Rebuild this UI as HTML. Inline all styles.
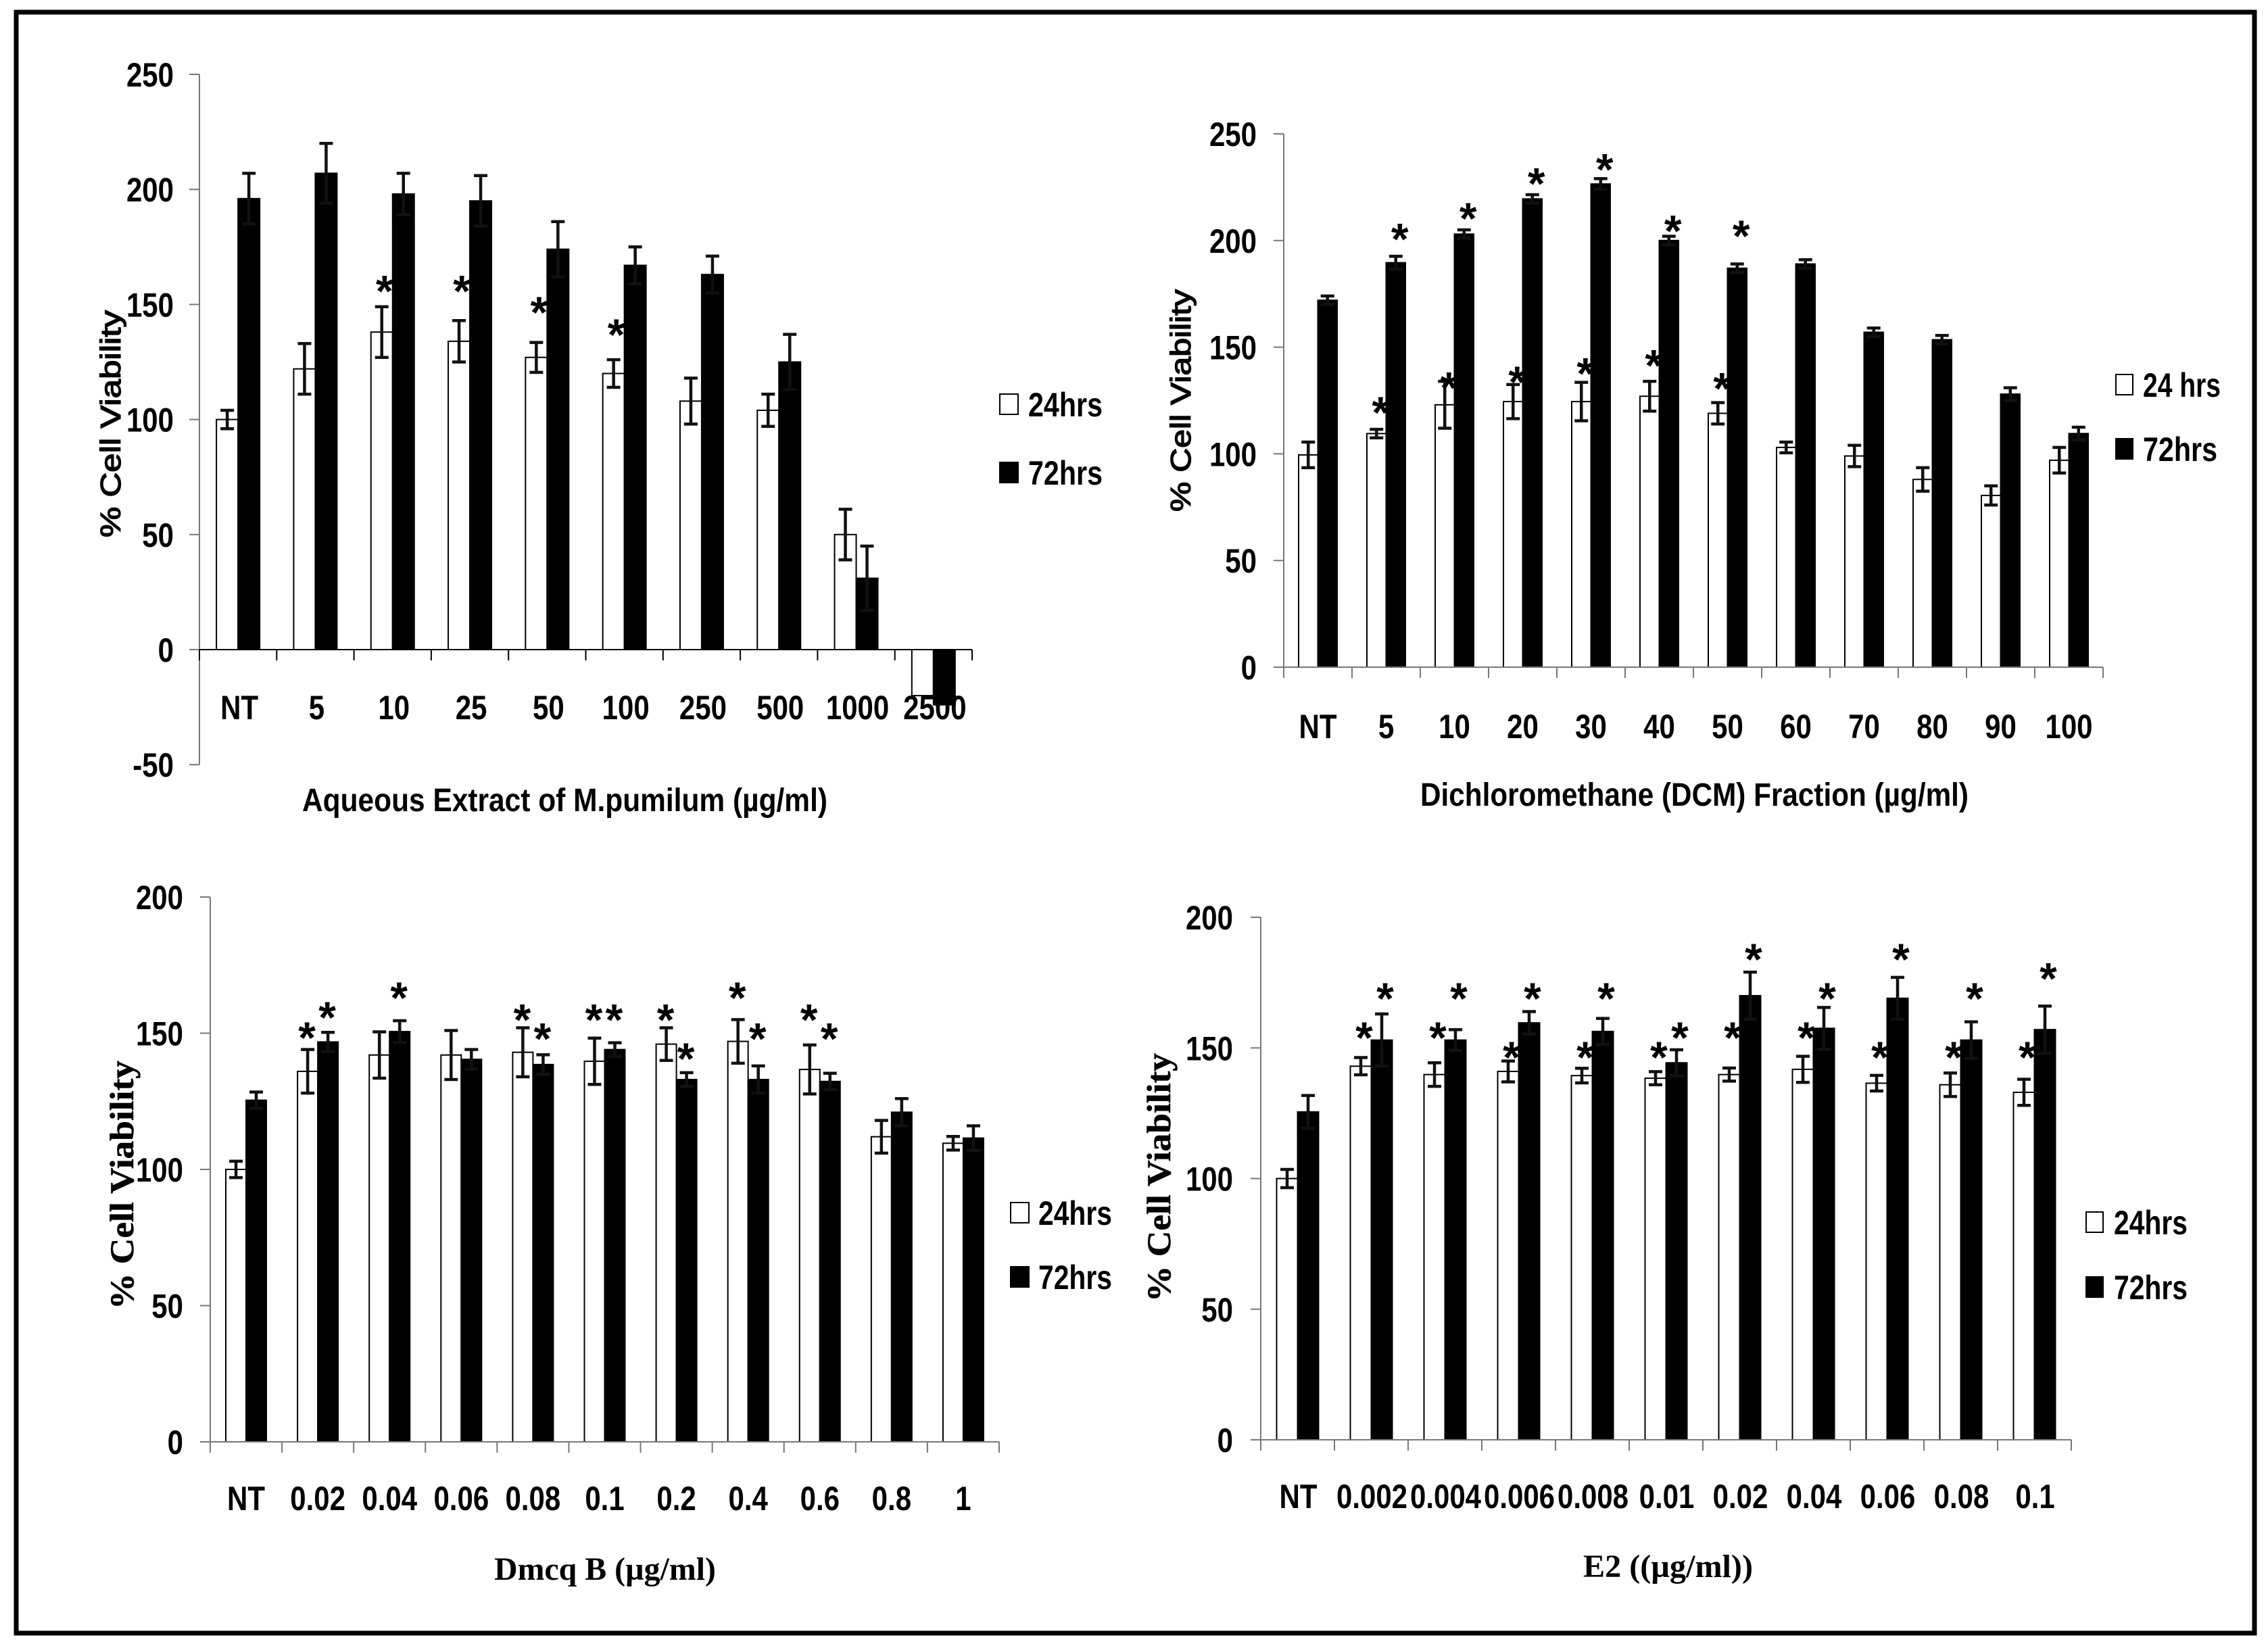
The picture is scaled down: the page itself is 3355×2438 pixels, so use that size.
<!DOCTYPE html>
<html lang="en">
<head>
<meta charset="utf-8">
<title>Cell viability charts</title>
<style>
html,body{margin:0;padding:0;background:#fff;}
svg{display:block;}
text{font-family:"Liberation Sans",Arial,sans-serif;fill:#000;}
.serif{font-family:"Liberation Serif","Times New Roman",serif;}
</style>
</head>
<body>
<svg id="figure" xmlns="http://www.w3.org/2000/svg" width="3355" height="2438" viewBox="0 0 3355 2438">
<rect x="0" y="0" width="3355" height="2438" fill="#fff"/>
<rect x="24" y="18" width="3311" height="2398" fill="none" stroke="#000" stroke-width="7"/>
</svg>
<script>
// Panel 1 data
const p1Categories = ['NT','5','10','25','50','100','250','500','1000','2500'];
const p1Values24 = [100,122,138,134,127,120,108,104,50,-20];
const p1Values72 = [196,207,198,195,174,167,163,125,31,-24];
const p1Err24 = [4,11,11,9,6.5,6,10,7,11,0];
const p1Err72 = [11,13,9,11,12,8,8,12,14,0];
const p1Stars24 = [null,null,157,157,147.7,138,null,null,null,null];
const p1Stars72 = [null,null,null,null,null,null,null,null,null,null];
const p1Ticks = [-50,0,50,100,150,200,250];

// Panel 2 data
const p2Categories = ['NT','5','10','20','30','40','50','60','70','80','90','100'];
const p2Values24 = [99.5,109.5,123,124.5,124.5,127,119,103,99,88,80.5,97];
const p2Values72 = [172,189.6,203,219.5,226.5,200,187,189,157,153.5,128,109.5];
const p2Err24 = [6,2,11,8,9,7,5,2.5,5,5.5,4.5,6];
const p2Err72 = [2,3,2,2,2.5,2,2,2,2,2,3,3];
const p2Stars24 = [null,120.7,132.3,135,139,142.7,132,null,null,null,null,null];
const p2Stars72 = [null,202,211.6,228,234.6,205.8,203.5,null,null,null,null,null];
const p2Ticks = [0,50,100,150,200,250];

// Panel 3 data
const p3Categories = ['NT','0.02','0.04','0.06','0.08','0.1','0.2','0.4','0.6','0.8','1'];
const p3Values24 = [100,136,142,142,143,139.7,146,147,136.7,112,109.6];
const p3Values72 = [125.4,146.8,150.6,140.4,138.5,144,133,133,132.3,121,111.5];
const p3Err24 = [3,8,8.5,9,9,8.5,6,8,9,6,2.5];
const p3Err72 = [3,3.5,4,3.6,3.6,2.5,2.5,5,3,5,4.5];
const p3Stars24 = [null,149.4,null,null,156,156,156,164,156,null,null];
const p3Stars72 = [null,156.8,164,null,149,156,141.7,149,149,null,null];
const p3Ticks = [0,50,100,150,200];

// Panel 4 data
const p4Categories = ['NT','0.002','0.004','0.006','0.008','0.01','0.02','0.04','0.06','0.08','0.1'];
const p4Values24 = [100,143,139.8,141,139.4,138.4,139.8,141.8,136.5,135.9,133];
const p4Values72 = [125.5,153,153,159.6,156.3,144.3,170,157.5,169,153,157];
const p4Err24 = [3.5,3.3,4.5,4,2.8,2.5,2.5,5,3,4.5,5];
const p4Err72 = [6.3,10,4,4.3,5,5,9,8,8,7,9];
const p4Stars24 = [null,155,155,147.5,147.5,147.5,155,155,147.5,147.5,147.5];
const p4Stars72 = [null,170,170,170,170,155,185,170,185,170,177.6];
const p4Ticks = [0,50,100,150,200];

const svgNS = 'http://www.w3.org/2000/svg';
const figure = document.getElementById('figure');

function make(parent, tag, attrs, content) {
  const el = document.createElementNS(svgNS, tag);
  for (const k in attrs) el.setAttribute(k, attrs[k]);
  if (content !== undefined) el.textContent = content;
  parent.appendChild(el);
  return el;
}

function drawPanel(c) {
  const g = make(figure, 'g', {});
  
  

  const yOf = v => c.y0 - v * (c.y0 - c.yTop) / c.yMax;
  const catW = (c.xEnd - c.x0) / c.categories.length;
  const catX = i => c.x0 + i * catW;
  const barX = (i, s) => catX(i) + (catW - 2 * c.barW) / 2 + s * c.barW;
  const yMinVal = c.ticks[0];
  const labelFamily = c.serif ? 'serif' : '';
  const narrow = (x, y) => 'translate(' + x + ' ' + y + ') scale(0.84 1)';

  // bars
  [[c.v24, 0], [c.v72, 1]].forEach(function (series) {
    const values = series[0], s = series[1];
    values.forEach(function (v, i) {
      const x = barX(i, s);
      const top = Math.min(yOf(v), c.y0);
      const h = Math.abs(yOf(v) - c.y0);
      const bar = make(g, 'rect', {x: x, y: top, width: c.barW, height: h, fill: s ? '#000' : '#fff', stroke: '#000', 'stroke-width': 2});
      
      
    });
  });
  // error bars and significance stars
  [[c.v24, c.e24, c.s24, 0], [c.v72, c.e72, c.s72, 1]].forEach(function (series) {
    const values = series[0], errs = series[1], stars = series[2], s = series[3];
    values.forEach(function (v, i) {
      const cx = barX(i, s) + c.barW / 2;
      if (errs[i] > 0) {
        const err = make(g, 'path', {d: 'M' + cx + ' ' + yOf(v + errs[i]) + 'V' + yOf(v - errs[i]) + 'M' + (cx - 10) + ' ' + yOf(v + errs[i]) + 'H' + (cx + 10) + 'M' + (cx - 10) + ' ' + yOf(v - errs[i]) + 'H' + (cx + 10), fill: 'none', stroke: '#111', 'stroke-width': 4.5});
        
        
      }
      if (stars[i] !== null) {
        const star = make(g, 'text', {x: cx + c.starDx, y: yOf(stars[i]) + 27, 'text-anchor': 'middle', 'font-size': 66, 'font-weight': 700}, '*');
        
        
      }
    });
  });

  // y axis
  const yAxis = make(g, 'line', {x1: c.x0, x2: c.x0, y1: c.yTop, y2: yOf(yMinVal), stroke: '#777', 'stroke-width': 2});
  
  
  c.ticks.forEach(function (t) {
    const tick = make(g, 'line', {x1: c.x0 - 15, x2: c.x0, y1: yOf(t), y2: yOf(t), stroke: '#777', 'stroke-width': 2});
    
    
    const lab = make(g, 'text', {transform: narrow(c.yLabelX, yOf(t) + 18), 'text-anchor': 'end', 'font-size': 50, 'font-weight': 700}, String(t));
    
    
  });

  // x axis
  const xAxis = make(g, 'line', {x1: c.x0, x2: c.xEnd, y1: c.y0, y2: c.y0, stroke: c.xAxisColor, 'stroke-width': 2});
  
  
  for (let i = 0; i <= c.categories.length; i++) {
    const tick = make(g, 'line', {x1: catX(i), x2: catX(i), y1: c.y0, y2: c.y0 + 16, stroke: c.xAxisColor, 'stroke-width': 2});
    
    
  }
  c.categories.forEach(function (cat, i) {
    const lab = make(g, 'text', {transform: narrow(catX(i) + catW / 2 + c.labelDx, c.xLabelY + 18), 'text-anchor': 'middle', 'font-size': 50, 'font-weight': 700}, cat);
    
    
  });

  // titles
  const xTitle = make(g, 'text', {x: c.xTitleX, y: c.xTitleY + 16, 'font-size': 48, 'font-weight': 700, textLength: c.xTitleW, lengthAdjust: 'spacingAndGlyphs', class: labelFamily}, c.xTitle);
  
  
  const yTitle = make(g, 'text', {transform: 'translate(' + c.yTitleX + ' ' + c.yTitleY + ') rotate(-90)', 'font-size': c.serif ? 50 : 42, 'font-weight': c.serif ? 700 : 400, textLength: c.yTitleL, lengthAdjust: 'spacingAndGlyphs', class: labelFamily, stroke: '#000', 'stroke-width': c.serif ? 0.6 : 1.4}, '% Cell Viability');
  
  

  // legend
  [[c.leg24Y, '#fff', c.leg24Text, c.leg24W], [c.leg72Y, '#000', '72hrs', c.leg72W]].forEach(function (l) {
    const sw = make(g, 'rect', {x: c.legX, y: l[0] - 15, width: c.legSw, height: 30, fill: l[1], stroke: '#000', 'stroke-width': 2});
    
    
    const tx = make(g, 'text', {x: c.legTextX, y: l[0] + 18, 'font-size': 50, 'font-weight': 700, textLength: l[3], lengthAdjust: 'spacingAndGlyphs'}, l[2]);
    
    
  });
}

drawPanel({name: 'chart-aqueous-extract', categories: p1Categories, v24: p1Values24, v72: p1Values72, e24: p1Err24, e72: p1Err72, s24: p1Stars24, s72: p1Stars72, ticks: p1Ticks,
  x0: 295, xEnd: 1438, y0: 961, yTop: 110, yMax: 250, barW: 32, starDx: 4, labelDx: 2, yLabelX: 257, xLabelY: 1046, xAxisColor: '#000',
  xTitle: 'Aqueous Extract of M.pumilum (µg/ml)', xTitleX: 447, xTitleY: 1184, xTitleW: 777, yTitleX: 178, yTitleY: 795, yTitleL: 336, serif: false,
  legX: 1479, legSw: 27, legTextX: 1521, leg24Y: 598, leg72Y: 699, leg24Text: '24hrs', leg24W: 110, leg72W: 110});

drawPanel({name: 'chart-dcm-fraction', categories: p2Categories, v24: p2Values24, v72: p2Values72, e24: p2Err24, e72: p2Err72, s24: p2Stars24, s72: p2Stars72, ticks: p2Ticks,
  x0: 1899, xEnd: 3111, y0: 987, yTop: 198, yMax: 250, barW: 28.5, starDx: 6, labelDx: 0, yLabelX: 1859, xLabelY: 1074, xAxisColor: '#777',
  xTitle: 'Dichloromethane (DCM) Fraction (µg/ml)', xTitleX: 2101, xTitleY: 1176, xTitleW: 811, yTitleX: 1761, yTitleY: 757, yTitleL: 329, serif: false,
  legX: 3130, legSw: 25, legTextX: 3170, leg24Y: 569, leg72Y: 664, leg24Text: '24 hrs', leg24W: 115, leg72W: 110});

drawPanel({name: 'chart-dmcq-b', categories: p3Categories, v24: p3Values24, v72: p3Values72, e24: p3Err24, e72: p3Err72, s24: p3Stars24, s72: p3Stars72, ticks: p3Ticks,
  x0: 311, xEnd: 1478, y0: 2133, yTop: 1327, yMax: 200, barW: 30, starDx: -1, labelDx: 0, yLabelX: 271, xLabelY: 2216, xAxisColor: '#777',
  xTitle: 'Dmcq B (µg/ml)', xTitleX: 731, xTitleY: 2321, xTitleW: 328, yTitleX: 197, yTitleY: 1937, yTitleL: 368, serif: true,
  legX: 1495, legSw: 27, legTextX: 1536, leg24Y: 1794, leg72Y: 1889, leg24Text: '24hrs', leg24W: 109, leg72W: 109});

drawPanel({name: 'chart-e2', categories: p4Categories, v24: p4Values24, v72: p4Values72, e24: p4Err24, e72: p4Err72, s24: p4Stars24, s72: p4Stars72, ticks: p4Ticks,
  x0: 1865, xEnd: 3064, y0: 2130, yTop: 1357, yMax: 200, barW: 31, starDx: 5, labelDx: 1, yLabelX: 1824, xLabelY: 2213, xAxisColor: '#777',
  xTitle: 'E2 ((µg/ml))', xTitleX: 2342, xTitleY: 2317, xTitleW: 251, yTitleX: 1731, yTitleY: 1926, yTitleL: 368, serif: true,
  legX: 3086, legSw: 25, legTextX: 3127, leg24Y: 1808, leg72Y: 1904, leg24Text: '24hrs', leg24W: 109, leg72W: 109});
</script>
</body>
</html>
